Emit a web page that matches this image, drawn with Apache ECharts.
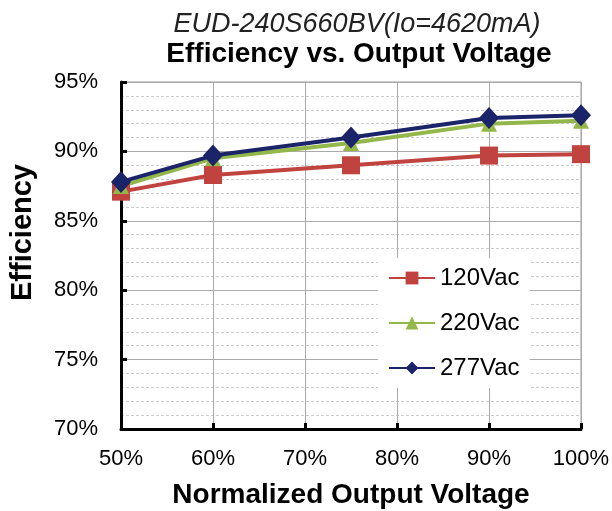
<!DOCTYPE html>
<html>
<head>
<meta charset="utf-8">
<script src="https://cdn.jsdelivr.net/npm/echarts@6/dist/echarts.min.js"></script>
<style>
    html, body { margin: 0; padding: 0; background: #fff; }
    #chart { width: 612px; height: 511px; }
</style>
</head>
<body>
<div id="chart"></div>
<script>
// 输出电压百分比
const voltages = [50, 60, 75, 90, 100];
// 各输入电压下的效率
const eff120 = [87.1, 88.3, 89.0, 89.7, 89.8];
const eff220 = [87.5, 89.5, 90.6, 92.0, 92.2];
const eff277 = [87.8, 89.7, 91.0, 92.4, 92.6];
const seriesNames = ['120Vac', '220Vac', '277Vac'];

const chart = echarts.init(document.getElementById('chart'));

function pairs(vals) {
    return voltages.map((v, i) => [v, vals[i]]);
}

const font = 'Arial, "Liberation Sans", sans-serif';

const option = {
    backgroundColor: '#fff',
    animation: false,
    title: [{
        text: 'EUD-240S660BV(Io=4620mA)',
        left: 352, top: 6, textAlign: 'center',
        textStyle: { fontFamily: font, fontSize: 27, fontStyle: 'italic', fontWeight: 'normal', color: '#222' }
    }, {
        text: 'Efficiency vs. Output Voltage',
        left: 354, top: 35, textAlign: 'center',
        textStyle: { fontFamily: font, fontSize: 28, fontWeight: 'bold', color: '#000' }
    }],
    grid: {
        left: 121, right: 31, top: 82, bottom: 82,
        outerBoundsMode: 'none',
        show: true, borderColor: '#999', borderWidth: 1
    },
    legend: {
        orient: 'vertical',
        left: 378, top: 258,
        padding: [8, 10, 8, 10],
        backgroundColor: '#fff',
        itemWidth: 46, itemHeight: 16, itemGap: 21,
        textStyle: { fontFamily: font, fontSize: 24, color: '#000' },
        data: seriesNames
    },
    xAxis: {
        type: 'value', min: 50, max: 100, interval: 10,
        axisLine: { lineStyle: { color: '#000', width: 3 } },
        axisTick: { inside: true, length: 6, lineStyle: { color: '#000', width: 3 } },
        axisLabel: { formatter: '{value}%', fontFamily: font, fontSize: 22, color: '#000', margin: 19 },
        splitLine: { show: true, lineStyle: { color: '#aaa', width: 1 } },
        name: 'Normalized Output Voltage', nameLocation: 'middle', nameGap: 52,
        nameTextStyle: { fontFamily: font, fontSize: 28, fontWeight: 'bold', color: '#000' }
    },
    yAxis: {
        type: 'value', min: 70, max: 95, interval: 5,
        axisLine: { show: true, lineStyle: { color: '#000', width: 3 } },
        axisTick: { show: true, inside: true, length: 6, lineStyle: { color: '#000', width: 3 } },
        axisLabel: { formatter: '{value}%', fontFamily: font, fontSize: 22, color: '#000', margin: 23 },
        splitLine: { show: true, lineStyle: { color: '#aaa', width: 1 } },
        minorTick: { show: false, splitNumber: 5 },
        minorSplitLine: { show: true, lineStyle: { color: '#ccc', width: 1, type: [3, 2] } },
        name: 'Efficiency', nameLocation: 'middle', nameGap: 84,
        nameTextStyle: { fontFamily: font, fontSize: 29, fontWeight: 'bold', color: '#000', padding: [0, 0, 0, 46] }
    },
    series: [{
        name: seriesNames[0], type: 'line', data: pairs(eff120),
        symbol: 'rect', symbolSize: 18,
        lineStyle: { color: '#c0433f', width: 4 },
        itemStyle: { color: '#c0433f' }
    }, {
        name: seriesNames[1], type: 'line', data: pairs(eff220),
        symbol: 'triangle', symbolSize: 16,
        lineStyle: { color: '#93b74a', width: 4 },
        itemStyle: { color: '#93b74a' }
    }, {
        name: seriesNames[2], type: 'line', data: pairs(eff277),
        symbol: 'diamond', symbolSize: [20, 22],
        lineStyle: { color: '#1b2369', width: 4 },
        itemStyle: { color: '#1b2369' }
    }]
};

chart.setOption(option);
</script>
</body>
</html>
